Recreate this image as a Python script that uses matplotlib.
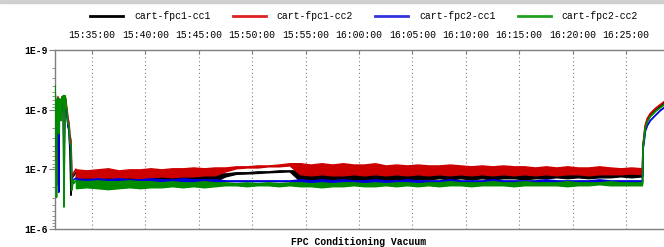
import matplotlib
matplotlib.use("Agg")
import matplotlib.pyplot as plt
import matplotlib.dates as mdates
from matplotlib.lines import Line2D
from matplotlib.patches import Rectangle
from matplotlib.ticker import FixedLocator, LogLocator, NullFormatter
import numpy as np
import pandas as pd

# time axis : minutes after 15:30:00
base = pd.Timestamp("2012-01-01 15:30:00")
t_start, t_end = 1.54, 58.56

names = ["cart-fpc1-cc1", "cart-fpc1-cc2", "cart-fpc2-cc1", "cart-fpc2-cc2"]
colors = ["#000000", "#cc0000", "#0000dd", "#008c00"]

# pressures below are in units of 1E-7

# start of the run : pump down spikes
spike_t = [1.54, 1.61, 1.68, 1.74, 1.82, 1.89, 1.96, 2.04, 2.10, 2.18, 2.24, 2.32, 2.38,
           2.46, 2.52, 2.60, 2.66, 2.76, 2.85, 2.94, 3.04, 3.11, 3.18, 3.25, 3.32]
spike_fpc1_cc1 = [0.045, 0.112, 1.85, 0.076, 0.068, 0.207, 0.071, 0.076, 0.141, 0.068, 0.073, 0.063, 2.24,
                  0.063, 0.068, 0.096, 0.112, 0.185, 0.207, 0.482, 2.71, 1.41, 1.36, 1.31, 1.26]
spike_fpc1_cc2 = [0.048, 0.112, 0.708, 0.071, 0.061, 0.141, 0.066, 0.071, 0.104, 0.061, 0.071, 0.061, 0.482,
                  0.061, 0.063, 0.082, 0.096, 0.141, 0.165, 0.271, 0.329, 1.26, 1.31, 1.21, 1.12]
spike_fpc2_cc1 = [0.043, 0.126, 0.482, 0.082, 0.071, 2.42, 0.071, 0.079, 0.126, 0.071, 0.076, 0.066, 0.708,
                  0.066, 0.071, 0.104, 0.117, 0.192, 0.224, 0.398, 0.482, 1.85, 1.65, 1.53, 1.47]
spike_fpc2_cc2 = [0.040, 0.104, 2.93, 0.071, 0.063, 0.251, 0.066, 0.071, 0.153, 0.063, 0.071, 0.058, 4.28,
                  0.058, 0.063, 0.093, 0.104, 0.171, 0.185, 0.355, 0.398, 2.24, 1.85, 1.53, 1.71]

# conditioning : noise band (min / max) every minute from 15:33:30 to 16:26:30
band_start, band_n = 3.5, 54
min_fpc1_cc1 = [1.12, 1.17, 1.12, 1.17, 1.12, 1.17, 1.12, 1.17, 1.12, 1.17, 1.12, 1.17, 1.12, 1.17,
                1.17, 1.12, 1.12, 1.08, 1.08, 1.04, 1.04,
                1.04, 1.08, 1.04, 1.08, 1.04, 1.08, 1.08, 1.12, 1.08, 1.12, 1.08,
                1.12, 1.12, 1.17, 1.12, 1.17, 1.12, 1.17, 1.12, 1.17, 1.17, 1.21,
                1.17, 1.21, 1.17, 1.21, 1.17, 1.21, 1.21, 1.21, 1.21, 1.21, 1.21]
max_fpc1_cc1 = [1.53, 1.58, 1.53, 1.58, 1.53, 1.58, 1.53, 1.58, 1.65, 1.58, 1.65, 1.58, 1.65, 1.58,
                1.31, 1.19, 1.17, 1.15, 1.12, 1.10, 1.08,
                1.58, 1.53, 1.58, 1.53, 1.58, 1.53, 1.53, 1.47, 1.53, 1.47, 1.53,
                1.47, 1.47, 1.41, 1.47, 1.41, 1.47, 1.41, 1.47, 1.41, 1.41, 1.47,
                1.41, 1.41, 1.36, 1.41, 1.36, 1.41, 1.36, 1.36, 1.31, 1.36, 1.31]
min_fpc1_cc2 = [1.00, 1.04, 1.00, 0.96, 1.04, 1.00, 1.00, 0.96, 1.00, 0.96, 0.96, 0.93, 0.96, 0.93,
                0.93, 0.89, 0.89, 0.86, 0.86, 0.83, 0.79,
                0.79, 0.83, 0.79, 0.83, 0.79, 0.83, 0.83, 0.79, 0.86, 0.83, 0.86,
                0.83, 0.86, 0.86, 0.83, 0.86, 0.89, 0.86, 0.89, 0.86, 0.89, 0.89,
                0.93, 0.89, 0.93, 0.89, 0.93, 0.93, 0.89, 0.93, 0.96, 0.93, 0.96]
max_fpc1_cc2 = [1.41, 1.36, 1.41, 1.36, 1.41, 1.36, 1.41, 1.36, 1.31, 1.36, 1.31, 1.31, 1.26, 1.26,
                1.08, 0.96, 0.93, 0.93, 0.89, 0.89, 0.86,
                1.21, 1.26, 1.21, 1.26, 1.26, 1.21, 1.26, 1.21, 1.26, 1.21, 1.26,
                1.21, 1.26, 1.21, 1.26, 1.21, 1.26, 1.21, 1.26, 1.21, 1.26, 1.21,
                1.26, 1.21, 1.26, 1.21, 1.21, 1.26, 1.21, 1.21, 1.21, 1.17, 1.21]
min_fpc2_cc1 = [1.41, 1.47, 1.41, 1.47, 1.41, 1.47, 1.47, 1.41, 1.47, 1.47, 1.41, 1.47, 1.47, 1.47,
                1.53, 1.53, 1.53, 1.53, 1.53, 1.53, 1.53,
                1.47, 1.53, 1.47, 1.53, 1.47, 1.53, 1.53, 1.47, 1.53, 1.53, 1.47,
                1.53, 1.53, 1.53, 1.47, 1.53, 1.53, 1.53, 1.47, 1.53, 1.53, 1.53,
                1.53, 1.47, 1.53, 1.53, 1.53, 1.53, 1.47, 1.53, 1.53, 1.53, 1.53]
max_fpc2_cc1 = [1.65, 1.71, 1.65, 1.65, 1.71, 1.65, 1.65, 1.71, 1.65, 1.65, 1.65, 1.71, 1.65, 1.65,
                1.58, 1.58, 1.58, 1.58, 1.58, 1.58, 1.58,
                1.65, 1.65, 1.71, 1.65, 1.65, 1.65, 1.71, 1.65, 1.65, 1.65, 1.65,
                1.71, 1.65, 1.65, 1.65, 1.65, 1.71, 1.65, 1.65, 1.65, 1.65, 1.65,
                1.71, 1.65, 1.65, 1.65, 1.65, 1.65, 1.71, 1.65, 1.65, 1.65, 1.65]
min_fpc2_cc2 = [1.53, 1.58, 1.53, 1.58, 1.58, 1.53, 1.58, 1.58, 1.65, 1.58, 1.65, 1.65, 1.58, 1.65,
                1.65, 1.71, 1.65, 1.71, 1.65, 1.71, 1.65,
                1.65, 1.71, 1.65, 1.71, 1.65, 1.65, 1.71, 1.65, 1.71, 1.65, 1.65,
                1.71, 1.65, 1.65, 1.58, 1.65, 1.65, 1.65, 1.58, 1.65, 1.65, 1.58,
                1.65, 1.65, 1.65, 1.58, 1.65, 1.65, 1.65, 1.58, 1.65, 1.65, 1.65]
max_fpc2_cc2 = [2.07, 2.00, 2.07, 2.15, 2.07, 2.00, 2.07, 2.00, 2.00, 1.92, 2.00, 1.92, 2.00, 1.92,
                1.85, 1.85, 1.92, 1.85, 1.85, 1.92, 1.85,
                1.92, 1.92, 2.00, 1.92, 1.92, 1.85, 1.92, 1.92, 1.85, 1.92, 1.85,
                1.92, 1.85, 1.92, 1.85, 1.85, 1.92, 1.85, 1.85, 1.85, 1.92, 1.85,
                1.85, 1.85, 1.85, 1.92, 1.85, 1.85, 1.78, 1.85, 1.85, 1.85, 1.85]

# end of the run : valve closed, pressure drop
rise_t = [56.55, 56.60, 56.71, 56.80, 57.00, 57.27, 57.55, 57.83, 58.20, 58.56]
rise_fpc1_cc1 = [1.26, 0.414, 0.282, 0.200, 0.153, 0.126, 0.112, 0.100, 0.089, 0.079]
rise_fpc1_cc2 = [1.04, 0.398, 0.261, 0.185, 0.141, 0.117, 0.104, 0.093, 0.083, 0.074]
rise_fpc2_cc1 = [1.58, 0.447, 0.329, 0.232, 0.185, 0.153, 0.136, 0.121, 0.104, 0.093]
rise_fpc2_cc2 = [1.71, 0.414, 0.293, 0.207, 0.158, 0.131, 0.117, 0.104, 0.093, 0.083]

spikes = [spike_fpc1_cc1, spike_fpc1_cc2, spike_fpc2_cc1, spike_fpc2_cc2]
mins = [min_fpc1_cc1, min_fpc1_cc2, min_fpc2_cc1, min_fpc2_cc2]
maxs = [max_fpc1_cc1, max_fpc1_cc2, max_fpc2_cc1, max_fpc2_cc2]
rises = [rise_fpc1_cc1, rise_fpc1_cc2, rise_fpc2_cc1, rise_fpc2_cc2]

font_mono = "Liberation Mono"
unit = 1e-7


def at(minutes):
    return base + pd.to_timedelta(np.asarray(minutes, dtype=float), unit="min")


band_t = pd.date_range(at([band_start])[0], periods=band_n, freq="1min")

fig = plt.figure(figsize=(6.64, 2.47), dpi=100)
fig.patches.append(Rectangle((0, 1 - 3 / 247), 1, 3 / 247, transform=fig.transFigure,
                             color="#cfcfcf", zorder=0))
ax = fig.add_axes([55 / 664, 1 - 229 / 247, 609 / 664, 179 / 247])

for i in range(4):
    c = colors[i]
    lo = np.array(mins[i]) * unit
    hi = np.array(maxs[i]) * unit
    ax.fill_between(band_t, lo, hi, facecolor=c, edgecolor=c, linewidth=1.0, zorder=2 + i)
    ax.plot(at(spike_t + [band_start]), np.r_[spikes[i], mins[i][0]] * unit,
            color=c, lw=1.2, zorder=2 + i)
    ax.plot(at(rise_t), np.array(rises[i]) * unit, color=c, lw=1.3, zorder=2 + i)

# axes
ax.set_yscale("log")
ax.set_ylim(1e-6, 1e-9)
ax.yaxis.set_major_locator(FixedLocator([1e-9, 1e-8, 1e-7, 1e-6]))
ax.set_yticklabels(["1E-9", "1E-8", "1E-7", "1E-6"])
ax.yaxis.set_minor_locator(LogLocator(base=10, subs=np.arange(2, 10)))
ax.yaxis.set_minor_formatter(NullFormatter())
ax.set_xlim(at([t_start])[0], at([t_end])[0])
ax.xaxis.set_major_locator(mdates.MinuteLocator(byminute=range(0, 60, 5)))
ax.xaxis.set_major_formatter(mdates.DateFormatter("%H:%M:%S"))
ax.xaxis.tick_top()

ax.tick_params(axis="x", which="both", direction="in", length=3, color="#7f7f7f",
               pad=7, labelsize=7)
ax.tick_params(axis="y", which="major", direction="out", length=4, color="#7f7f7f",
               pad=1, labelsize=7)
ax.tick_params(axis="y", which="minor", direction="out", length=2, color="#7f7f7f")
for lab in ax.get_xticklabels():
    lab.set_family(font_mono)
for lab in ax.get_yticklabels():
    lab.set_family(font_mono)
    lab.set_fontweight("bold")

for side in ["top", "bottom", "left"]:
    ax.spines[side].set_color("#7f7f7f")
    ax.spines[side].set_linewidth(1.0)
ax.spines["right"].set_visible(False)

ax.grid(axis="x", color="#808080", linestyle=(0, (1, 2.5)), linewidth=0.8)
ax.set_axisbelow(True)

handles = [Line2D([], [], color=c, lw=2) for c in ["#000000", "#dd2222", "#3333dd", "#22a022"]]
fig.legend(handles, names, loc="center", bbox_to_anchor=(364 / 664, 1 - 16 / 247), ncol=4,
           frameon=False, handlelength=3.4, handletextpad=1.1, columnspacing=2.3,
           prop={"family": font_mono, "size": 7})

fig.text(359 / 664, 1 - 242 / 247, "FPC Conditioning Vacuum", ha="center", va="center",
         family=font_mono, fontsize=7, fontweight="bold")

fig.savefig("out.png", dpi=100)
